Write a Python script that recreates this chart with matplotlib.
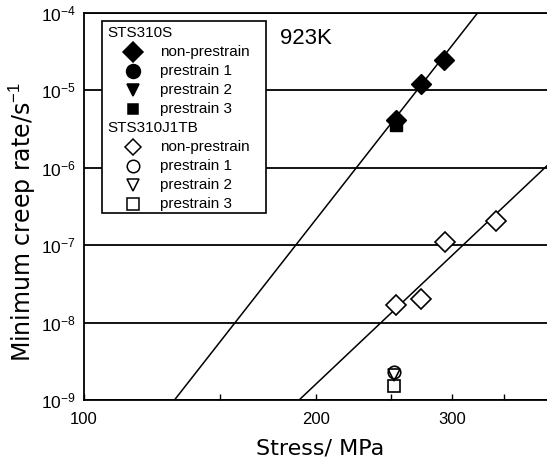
import matplotlib
matplotlib.use('Agg')
import matplotlib.pyplot as plt
from matplotlib.patches import Rectangle
from matplotlib.ticker import NullLocator, FixedLocator, NullFormatter, LogFormatterMathtext

# STS310S (filled symbols)
s_nonpre_stress = [254, 273, 293]
s_nonpre_rate = [4.1e-6, 1.19e-5, 2.44e-5]
s_pre3_stress = [254]
s_pre3_rate = [3.5e-6]

# STS310J1TB (open symbols)
j_nonpre_stress = [254, 273, 294, 342]
j_nonpre_rate = [1.68e-8, 2.0e-8, 1.09e-7, 2.04e-7]
j_pre1_stress = [252]
j_pre1_rate = [2.32e-9]
j_pre2_stress = [252]
j_pre2_rate = [2.1e-9]
j_pre3_stress = [252]
j_pre3_rate = [1.52e-9]

# fitted lines, end points
fit_s_stress = [131, 324]
fit_s_rate = [1e-9, 1e-4]
fit_j_stress = [190, 400]
fit_j_rate = [1e-9, 1.1e-6]

x_major = [100, 200, 300]
x_minor = [150, 250, 350]
y_ticks = [1e-9, 1e-8, 1e-7, 1e-6, 1e-5, 1e-4]

legend_groups = [
    ('STS310S', [('D', 'k', 'non-prestrain', 10),
                 ('o', 'k', 'prestrain 1', 10),
                 ('v', 'k', 'prestrain 2', 9),
                 ('s', 'k', 'prestrain 3', 7.5)]),
    ('STS310J1TB', [('D', 'none', 'non-prestrain', 8.5),
                    ('o', 'none', 'prestrain 1', 9),
                    ('v', 'none', 'prestrain 2', 9),
                    ('s', 'none', 'prestrain 3', 8)]),
]

plt.rcParams['font.family'] = ['Liberation Sans', 'DejaVu Sans']
plt.rcParams['mathtext.fontset'] = 'custom'
plt.rcParams['mathtext.rm'] = 'Liberation Sans'

W, H = 547, 467
fig = plt.figure(figsize=(W / 100, H / 100), dpi=100)
ax = fig.add_axes([84 / W, 67 / H, 504 / W, 387.5 / H])


def fx(px):
    return px / W


def fy(py):
    return 1 - py / H


ax.set_xscale('log')
ax.set_yscale('log')
ax.set_xlim(100, 450)
ax.set_ylim(1e-9, 1e-4)

ax.plot(fit_s_stress, fit_s_rate, color='k', lw=1.1)
ax.plot(fit_j_stress, fit_j_rate, color='k', lw=1.1)

ax.plot(s_nonpre_stress, s_nonpre_rate, 'D', color='k', ms=10, zorder=5)
ax.plot(s_pre3_stress, s_pre3_rate, 's', color='k', ms=9, zorder=4)
ax.plot(j_nonpre_stress, j_nonpre_rate, 'D', mfc='white', mec='k', mew=1.2, ms=10, zorder=5)
ax.plot(j_pre1_stress, j_pre1_rate, 'o', mfc='none', mec='k', mew=1.2, ms=9, zorder=5)
ax.plot(j_pre2_stress, j_pre2_rate, 'v', mfc='none', mec='k', mew=1.2, ms=9, zorder=5)
ax.plot(j_pre3_stress, j_pre3_rate, 's', mfc='white', mec='k', mew=1.2, ms=8.5, zorder=4)

ax.xaxis.set_major_locator(FixedLocator(x_major))
ax.xaxis.set_minor_locator(FixedLocator(x_minor))
ax.xaxis.set_major_formatter(matplotlib.ticker.FixedFormatter([str(v) for v in x_major]))
ax.xaxis.set_minor_formatter(NullFormatter())
ax.tick_params(axis='x', which='both', direction='in', length=4, width=1, labelsize=12, pad=9)

ax.yaxis.set_major_locator(FixedLocator(y_ticks))
ax.yaxis.set_minor_locator(NullLocator())
ax.yaxis.set_major_formatter(LogFormatterMathtext())
ax.tick_params(axis='y', which='both', length=0, labelsize=12.5, pad=6)
ax.grid(True, axis='y', color='k', lw=1.3)

for s in ax.spines.values():
    s.set_linewidth(1.3)

ax.set_xlabel('Stress/ MPa', family='DejaVu Sans', fontsize=16)
ax.xaxis.set_label_coords((320 - 84) / 504, -38 / 387.5)
ax.set_ylabel('Minimum creep rate/s$^{-1}$', family='DejaVu Sans', fontsize=17)
ax.yaxis.set_label_coords(-46 / 504, (400 - 222) / 387.5)

fig.text(fx(280), fy(39), '923K', fontsize=16, va='center', ha='left')

# legend box with group headers
fig.add_artist(Rectangle((fx(102), fy(213)), fx(266) - fx(102), fy(21) - fy(213),
                         transform=fig.transFigure, fill=True, fc='white', ec='k', lw=1.2, zorder=10))
row = 0
for header, entries in legend_groups:
    y = 33 + 19 * row
    fig.text(fx(107), fy(y), header, fontsize=11, va='center', ha='left', zorder=11)
    row += 1
    for marker, face, label, size in entries:
        y = 33 + 19 * row
        fig.add_artist(plt.Line2D([fx(133)], [fy(y)], marker=marker, ms=size, mfc=face, mec='k',
                                  mew=1.1, ls='none', transform=fig.transFigure, zorder=11))
        fig.text(fx(160), fy(y), label, fontsize=11, va='center', ha='left', zorder=11)
        row += 1

fig.savefig('out.png', dpi=100)
